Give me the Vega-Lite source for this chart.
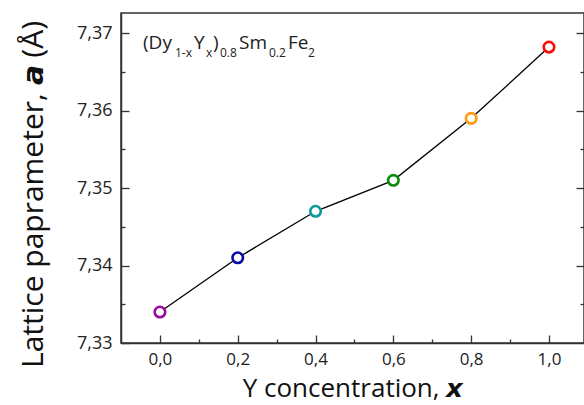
{
  "$schema": "https://vega.github.io/schema/vega-lite/v6.json",
  "width": 463,
  "height": 330,
  "autosize": {"type": "none"},
  "padding": {"left": 121, "top": 13, "right": 0, "bottom": 62},
  "background": "white",
  "config": {
    "font": "Open Sans",
    "view": {"stroke": "#333", "strokeWidth": 1.5},
    "axis": {
      "domainColor": "#333", "domainWidth": 1.5, "tickColor": "#333", "tickWidth": 1.3,
      "labelFont": "Open Sans", "labelFontSize": 18, "labelColor": "#222",
      "titleFont": "Open Sans", "titleFontWeight": "normal", "titleColor": "#111",
      "grid": false
    },
    "text": {"font": "Open Sans", "fontWeight": "normal", "color": "#222", "align": "left", "baseline": "alphabetic"}
  },
  "data": {"values": [
    {"x": 0.0, "a": 7.334, "c": "c0"},
    {"x": 0.2, "a": 7.341, "c": "c1"},
    {"x": 0.4, "a": 7.347, "c": "c2"},
    {"x": 0.6, "a": 7.351, "c": "c3"},
    {"x": 0.8, "a": 7.359, "c": "c4"},
    {"x": 1.0, "a": 7.3682, "c": "c5"}
  ]},
  "layer": [
    {
      "mark": {"type": "line", "color": "black", "strokeWidth": 1.3},
      "encoding": {
        "x": {"field": "x", "type": "quantitative",
          "scale": {"domain": [-0.1, 1.09], "nice": false, "zero": false},
          "axis": {
            "title": "Y concentration, 𝙭",
            "titleFontSize": 26,
            "titleBaseline": "alphabetic",
            "titleY": 53,
            "labelFontSize": 17,
            "values": [0, 0.1, 0.2, 0.3, 0.4, 0.5, 0.6, 0.7, 0.8, 0.9, 1.0],
            "labelExpr": "abs(round(datum.value*5) - datum.value*5) > 0.01 ? '' : replace(format(datum.value, '.1f'), '.', ',')",
            "tickSize": {"condition": {"test": "abs(round(datum.value*5) - datum.value*5) > 0.01", "value": -4}, "value": -8},
            "labelPadding": 16
          }
        },
        "y": {"field": "a", "type": "quantitative",
          "scale": {"domain": [7.33, 7.3726], "nice": false, "zero": false},
          "axis": {
            "title": "Lattice paprameter, 𝙖 (Å)",
            "titleFontSize": 30,
            "titleY": 181,
            "values": [7.33, 7.335, 7.34, 7.345, 7.35, 7.355, 7.36, 7.365, 7.37],
            "labelExpr": "abs(round(datum.value*100) - datum.value*100) > 0.1 ? '' : replace(format(datum.value, '.2f'), '.', ',')",
            "tickSize": {"condition": {"test": "abs(round(datum.value*100) - datum.value*100) > 0.1", "value": -4}, "value": -8},
            "labelPadding": 17,
            "titlePadding": 28
          }
        }
      }
    },
    {
      "mark": {"type": "point", "shape": "circle", "filled": false, "fill": "white", "fillOpacity": 1, "size": 110, "strokeWidth": 2.6, "opacity": 1},
      "encoding": {
        "x": {"field": "x", "type": "quantitative"},
        "y": {"field": "a", "type": "quantitative",
          "axis": {
            "orient": "right", "title": null, "labels": false, "domain": false,
            "values": [7.335, 7.34, 7.345, 7.35, 7.355, 7.36, 7.365, 7.37],
            "tickSize": {"condition": {"test": "abs(round(datum.value*100) - datum.value*100) > 0.1", "value": -4}, "value": -8}
          }
        },
        "color": {"field": "c", "type": "nominal",
          "scale": {"domain": ["c0", "c1", "c2", "c3", "c4", "c5"], "range": ["#9b0a9b", "#0a0aa8", "#0a9a9a", "#0a8a0a", "#ff9a10", "#ff0a0a"]},
          "legend": null}
      }
    },
    {"data": {"values": [{}]}, "mark": {"type": "text", "fontSize": 19}, "encoding": {"x": {"datum": -0.04346}, "y": {"datum": 7.36795, "axis": null}, "text": {"value": "(Dy"}}},
    {"data": {"values": [{}]}, "mark": {"type": "text", "fontSize": 12, "dy": 8}, "encoding": {"x": {"datum": 0.03879}, "y": {"datum": 7.36795, "axis": null}, "text": {"value": "1-x"}}},
    {"data": {"values": [{}]}, "mark": {"type": "text", "fontSize": 19}, "encoding": {"x": {"datum": 0.08762}, "y": {"datum": 7.36795, "axis": null}, "text": {"value": "Y"}}},
    {"data": {"values": [{}]}, "mark": {"type": "text", "fontSize": 12, "dy": 8}, "encoding": {"x": {"datum": 0.11846}, "y": {"datum": 7.36795, "axis": null}, "text": {"value": "x"}}},
    {"data": {"values": [{}]}, "mark": {"type": "text", "fontSize": 19}, "encoding": {"x": {"datum": 0.13645}, "y": {"datum": 7.36795, "axis": null}, "text": {"value": ")"}}},
    {"data": {"values": [{}]}, "mark": {"type": "text", "fontSize": 12, "dy": 8}, "encoding": {"x": {"datum": 0.15445}, "y": {"datum": 7.36795, "axis": null}, "text": {"value": "0.8"}}},
    {"data": {"values": [{}]}, "mark": {"type": "text", "fontSize": 19}, "encoding": {"x": {"datum": 0.20328}, "y": {"datum": 7.36795, "axis": null}, "text": {"value": "Sm"}}},
    {"data": {"values": [{}]}, "mark": {"type": "text", "fontSize": 12, "dy": 8}, "encoding": {"x": {"datum": 0.28038}, "y": {"datum": 7.36795, "axis": null}, "text": {"value": "0.2"}}},
    {"data": {"values": [{}]}, "mark": {"type": "text", "fontSize": 19}, "encoding": {"x": {"datum": 0.32921}, "y": {"datum": 7.36795, "axis": null}, "text": {"value": "Fe"}}},
    {"data": {"values": [{}]}, "mark": {"type": "text", "fontSize": 12, "dy": 8}, "encoding": {"x": {"datum": 0.38062}, "y": {"datum": 7.36795, "axis": null}, "text": {"value": "2"}}}
  ],
  "resolve": {"axis": {"y": "independent"}}
}
